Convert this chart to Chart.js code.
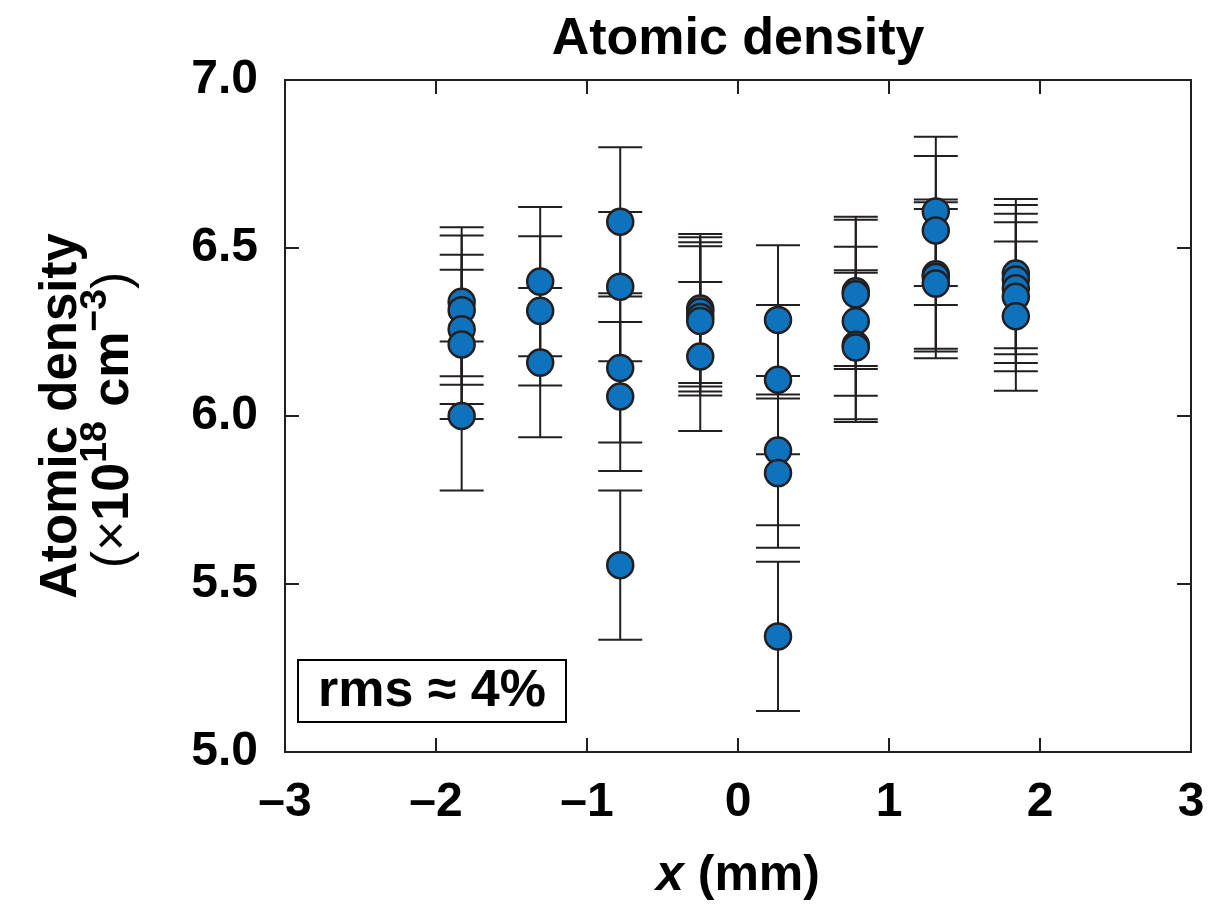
<!DOCTYPE html>
<html lang="en">

<head>
    <meta charset="UTF-8">
    <title>Atomic density</title>
    <style>
        body { margin: 0; background: #fff; }
        #wrap { width: 1214px; height: 909px; position: relative; }
    </style>
</head>

<body>
    <div id="wrap">
        <canvas id="myChart"></canvas>
    </div>
    <script src="https://cdn.jsdelivr.net/npm/chart.js"></script>

    <script>
        // x position of each group of measurements (mm)
        var groupX = [-1.83, -1.31, -0.78, -0.25, 0.265, 0.78, 1.31, 1.84];
        // atomic density values per group (x10^18 cm^-3)
        var group1 = [6.34, 6.315, 6.258, 6.213, 6.0];
        var group2 = [6.40, 6.313, 6.159];
        var group3 = [6.578, 6.385, 6.143, 6.058, 5.556];
        var group4 = [6.32, 6.31, 6.295, 6.283, 6.177];
        var group5 = [6.286, 6.108, 5.897, 5.83, 5.344];
        var group6 = [6.371, 6.362, 6.282, 6.212, 6.204];
        var group7 = [6.609, 6.552, 6.422, 6.414, 6.394];
        var group8 = [6.424, 6.406, 6.38, 6.355, 6.297];
        var groups = [group1, group2, group3, group4, group5, group6, group7, group8];
        // error bar half height
        var errBar = 0.222;
        var xTicks = [-3, -2, -1, 0, 1, 2, 3];
        var yTicks = [5.0, 5.5, 6.0, 6.5, 7.0];

        var points = [];
        groups.forEach(function (g, i) {
            g.forEach(function (v) {
                points.push({ x: groupX[i], y: v, err: errBar });
            });
        });

        var FONT = "'Liberation Sans', Arial, Helvetica, sans-serif";
        var INK = '#231f20';

        function partFont(p, size) {
            return (p.italic ? 'italic ' : '') + (p.thin ? '' : 'bold ') + (p.sup ? size * 0.72 : size) + 'px ' + FONT;
        }

        // draw a row of text pieces (normal / superscript) centred at 0,0
        function richText(ctx, parts, size) {
            var total = 0;
            parts.forEach(function (p) {
                ctx.font = partFont(p, size);
                p.w = ctx.measureText(p.t).width;
                total += p.w;
            });
            var x = -total / 2;
            ctx.textAlign = 'left';
            ctx.textBaseline = 'middle';
            parts.forEach(function (p) {
                ctx.font = partFont(p, size);
                ctx.fillText(p.t, x, p.sup ? -size * 0.36 : 0);
                x += p.w;
            });
        }

        var errorBars = {
            id: 'errorBars',
            beforeDatasetsDraw: function (chart) {
                var ctx = chart.ctx;
                var xs = chart.scales.x, ys = chart.scales.y;
                ctx.save();
                ctx.strokeStyle = INK;
                ctx.lineWidth = 2;
                points.forEach(function (p) {
                    var px = xs.getPixelForValue(p.x);
                    var top = ys.getPixelForValue(p.y + p.err);
                    var bot = ys.getPixelForValue(p.y - p.err);
                    ctx.beginPath();
                    ctx.moveTo(px, top); ctx.lineTo(px, bot);
                    ctx.moveTo(px - 22, top); ctx.lineTo(px + 22, top);
                    ctx.moveTo(px - 22, bot); ctx.lineTo(px + 22, bot);
                    ctx.stroke();
                });
                ctx.restore();
            },
            afterDraw: function (chart) {
                var ctx = chart.ctx;
                var a = chart.chartArea;
                var xs = chart.scales.x, ys = chart.scales.y;
                ctx.save();
                ctx.strokeStyle = INK;
                ctx.lineWidth = 2;
                ctx.strokeRect(a.left, a.top, a.right - a.left, a.bottom - a.top);
                // inward ticks
                ctx.beginPath();
                xTicks.forEach(function (t) {
                    var px = xs.getPixelForValue(t);
                    ctx.moveTo(px, a.bottom); ctx.lineTo(px, a.bottom - 14);
                    ctx.moveTo(px, a.top); ctx.lineTo(px, a.top + 14);
                });
                yTicks.forEach(function (t) {
                    var py = ys.getPixelForValue(t);
                    ctx.moveTo(a.left, py); ctx.lineTo(a.left + 14, py);
                    ctx.moveTo(a.right, py); ctx.lineTo(a.right - 14, py);
                });
                ctx.stroke();

                ctx.fillStyle = '#000';
                var cx = (a.left + a.right) / 2;
                // title
                ctx.save();
                ctx.translate(cx, 40);
                richText(ctx, [{ t: 'Atomic density' }], 52);
                ctx.restore();
                // x axis title
                ctx.save();
                ctx.translate(cx, 876);
                richText(ctx, [{ t: 'x', italic: true }, { t: ' (mm)' }], 50);
                ctx.restore();
                // y axis title
                ctx.save();
                ctx.translate(62, 416);
                ctx.rotate(-Math.PI / 2);
                richText(ctx, [{ t: 'Atomic density' }], 51);
                ctx.restore();
                ctx.save();
                ctx.translate(114, 420);
                ctx.rotate(-Math.PI / 2);
                richText(ctx, [{ t: '(\u00d7', thin: true }, { t: '10' }, { t: '18', sup: true }, { t: ' cm' }, { t: '\u22123', sup: true }, { t: ')', thin: true }], 52);
                ctx.restore();

                // rms box
                ctx.strokeStyle = '#000';
                ctx.lineWidth = 2;
                ctx.strokeRect(298, 660, 268, 62);
                ctx.save();
                ctx.translate(432, 692);
                richText(ctx, [{ t: 'rms \u2248 4%' }], 52);
                ctx.restore();
                ctx.restore();
            }
        };

        var ctx01 = document.getElementById('myChart');
        var mychart = new Chart(ctx01, {
            type: 'scatter',
            data: {
                datasets: [{
                    label: 'Atomic density',
                    data: points,
                    pointRadius: 13,
                    pointHoverRadius: 13,
                    pointBackgroundColor: '#0f72bd',
                    pointBorderColor: INK,
                    pointBorderWidth: 2.5
                }]
            },
            plugins: [errorBars],
            options: {
                responsive: true,
                maintainAspectRatio: false,
                animation: false,
                events: [],
                layout: { padding: { left: 0, right: 23, top: 80, bottom: 0 } },
                plugins: {
                    legend: { display: false },
                    tooltip: { enabled: false },
                    title: { display: false }
                },
                scales: {
                    x: {
                        type: 'linear',
                        min: -3,
                        max: 3,
                        grid: { display: false, drawTicks: false },
                        border: { display: false },
                        afterFit: function (s) { s.height = 157; s.paddingLeft = 0; s.paddingRight = 0; },
                        ticks: {
                            stepSize: 1,
                            padding: 22,
                            color: '#000',
                            font: { family: FONT, size: 48, weight: 'bold' },
                            callback: function (v) { return v < 0 ? '\u2013' + Math.abs(v) : String(v); }
                        }
                    },
                    y: {
                        type: 'linear',
                        min: 5,
                        max: 7,
                        grid: { display: false, drawTicks: false },
                        border: { display: false },
                        afterFit: function (s) { s.width = 285; s.paddingTop = 0; s.paddingBottom = 0; },
                        ticks: {
                            stepSize: 0.5,
                            padding: 27,
                            color: '#000',
                            font: { family: FONT, size: 48, weight: 'bold' },
                            callback: function (v) { return v.toFixed(1); }
                        }
                    }
                }
            }
        });
    </script>
</body>

</html>
